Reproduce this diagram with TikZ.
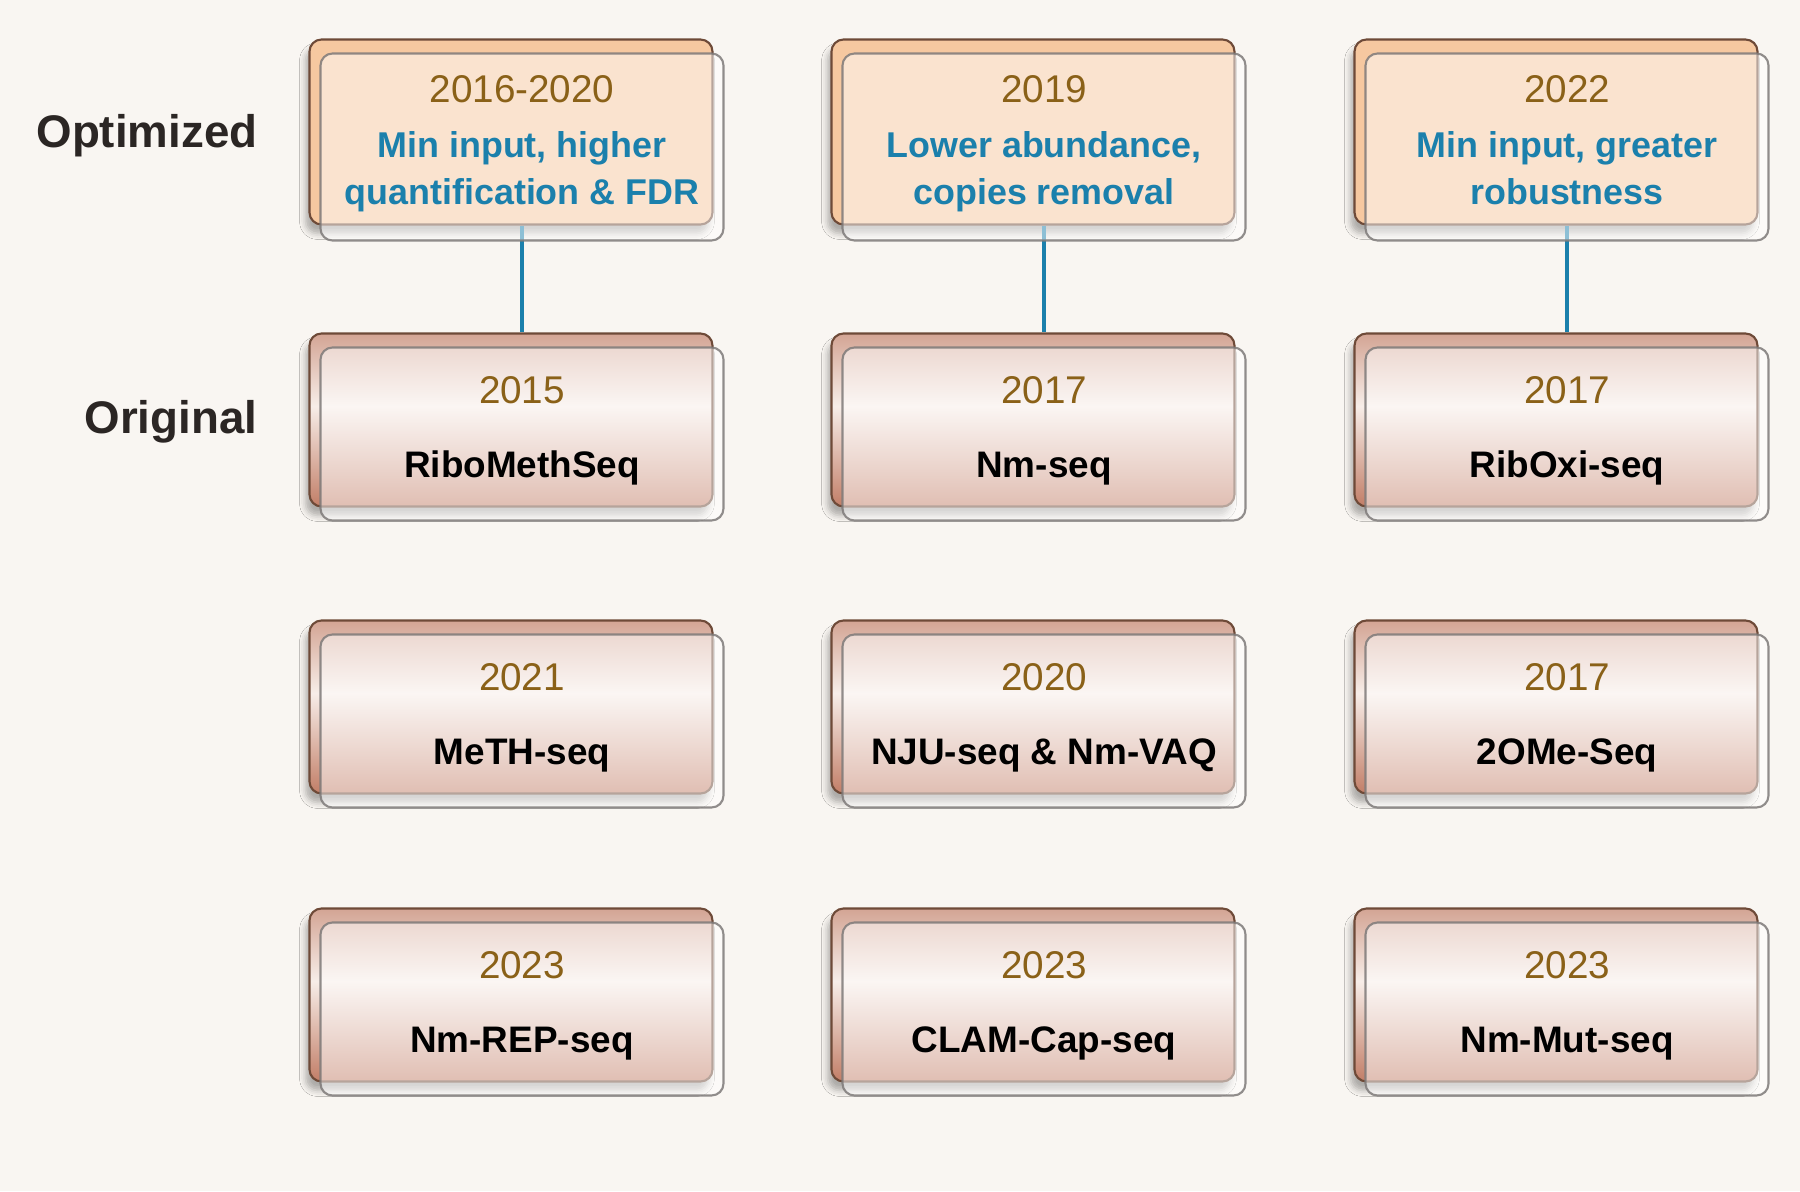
\documentclass[tikz,border=0pt]{standalone}
\usepackage{fontspec}
\setmainfont{Liberation Sans}
\usetikzlibrary{shadows.blur}

\definecolor{fondo}{HTML}{F9F6F2}
\definecolor{bordeosc}{HTML}{6E4A38}
\definecolor{bordegris}{HTML}{7E7A79}
\definecolor{durazno}{HTML}{F6C8A0}
\definecolor{cafearriba}{HTML}{D3A594}
\definecolor{cafemedio}{HTML}{F7EDE8}
\definecolor{cafeabajo}{HTML}{C27E67}
\definecolor{anio}{HTML}{8A6118}
\definecolor{azul}{HTML}{1B80AC}
\definecolor{etiq}{HTML}{2B2624}

\pgfdeclareverticalshading{cajaorig}{100bp}{color(0bp)=(cafeabajo); color(25bp)=(cafeabajo); color(54bp)=(cafemedio); color(75bp)=(cafearriba); color(100bp)=(cafearriba)}

\newcommand{\anio}[1]{\textcolor{anio}{\fontsize{11}{13.4}\selectfont #1}}
\newcommand{\mejora}[1]{\textcolor{azul}{\fontsize{10.2}{13.4}\selectfont\bfseries #1}}
\newcommand{\metodo}[1]{{\fontsize{10.5}{13.4}\selectfont\bfseries #1}}

\tikzset{
  atras/.style={draw=bordeosc, line width=0.6pt, rounded corners=1.2mm, minimum width=40.3mm,
    blur shadow={shadow xshift=-0.4mm, shadow yshift=-0.9mm, shadow blur radius=0.6mm, shadow opacity=30}},
  optatras/.style={atras, fill=durazno, minimum height=18.5mm},
  origatras/.style={atras, shading=cajaorig, minimum height=17.3mm},
  frente/.style={draw=bordegris, draw opacity=0.85, line width=0.6pt, rounded corners=1.2mm,
    fill=white, fill opacity=0.5, text opacity=1, align=center, inner sep=0pt,
    minimum width=40.3mm, font=\fontsize{10.5}{13.4}\selectfont},
  optfrente/.style={frente, minimum height=18.7mm},
  origfrente/.style={frente, minimum height=17.3mm},
  conector/.style={draw=azul, line width=1.1pt},
  etiqueta/.style={font=\fontsize{13}{15}\selectfont\bfseries, text=etiq, inner sep=0pt},
}

\begin{document}
\begin{tikzpicture}[x=0.1mm, y=-0.1mm]
  % Fondo
  \fill[fondo] (0,0) rectangle (1800,1191);
  \useasboundingbox (0,0) rectangle (1800,1191);

  % Etiquetas de las filas
  \node[etiqueta, anchor=base east] (lopt) at (258,147) {Optimized};
  \node[etiqueta, anchor=base east] (lorig) at (258,433) {Original};

  % Cajas de atras
  \foreach \c/\x in {1/511,2/1033,3/1556}{
    \node[optatras] (ob\c) at (\x,132) {};
    \foreach \r/\y in {2/420,3/707,4/995}
      \node[origatras] (b\r\c) at (\x,\y) {};
  }

  % Conectores entre optimizado y original
  \foreach \c in {1,2,3}
    \draw[conector] ([xshift=1.1mm]ob\c.south) -- ([xshift=1.1mm]b2\c.north);

  % Cajas de adelante, fila optimizada
  \foreach \c/\a/\l/\m in {1/2016-2020/{Min input, higher}/{quantification \& FDR},
                           2/2019/{Lower abundance,}/{copies removal},
                           3/2022/{Min input, greater}/{robustness}}
    \node[optfrente] (of\c) at ([shift={(11,15)}]ob\c.center)
      {\anio{\a}\\[2.2pt]\mejora{\l}\\\mejora{\m\strut}};

  % Cajas de adelante, metodos originales
  \foreach \r/\c/\a/\m in {2/1/2015/RiboMethSeq, 2/2/2017/Nm-seq, 2/3/2017/RibOxi-seq,
                           3/1/2021/MeTH-seq, 3/2/2020/{NJU-seq \& Nm-VAQ}, 3/3/2017/2OMe-Seq,
                           4/1/2023/Nm-REP-seq, 4/2/2023/CLAM-Cap-seq, 4/3/2023/Nm-Mut-seq}
    \node[origfrente] (f\r\c) at ([shift={(11,14)}]b\r\c.center)
      {\anio{\a}\\[7.9pt]\metodo{\m\strut}};
\end{tikzpicture}
\end{document}
